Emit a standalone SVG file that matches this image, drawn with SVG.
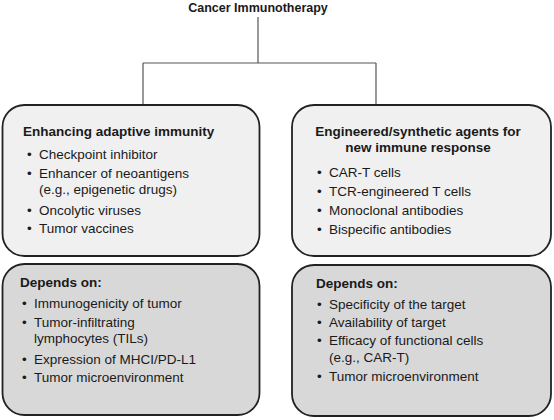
<svg xmlns="http://www.w3.org/2000/svg" width="554" height="420" viewBox="0 0 554 420">
<style>
text{font-family:"Liberation Sans",Arial,sans-serif;fill:#1a1a1a;font-size:13.5px}
.b{font-weight:bold}
.t{font-size:12.5px;font-weight:bold}
.box{stroke:#222;stroke-width:1.8}
.top{fill:#f0f0f0}
.bot{fill:#d8d8d8}
.conn{fill:none;stroke:#555;stroke-width:1.2}
</style>
<rect width="554" height="420" fill="#fff"/>
<g id="title"><text class="t" x="258" y="12" text-anchor="middle">Cancer Immunotherapy</text></g>
<g id="connectors">
<path class="conn" d="M258,17 V63 M143,63 H376 M143,63 V104 M376,63 V104"/>
</g>
<g id="adaptive">
<rect class="box top" x="2.5" y="105" width="257" height="151" rx="22"/>
<text class="b" x="23" y="136">Enhancing adaptive immunity</text>
<text x="27" y="159">•</text><text x="39" y="159">Checkpoint inhibitor</text>
<text x="27" y="178">•</text><text x="39" y="178">Enhancer of neoantigens</text>
<text x="39" y="194">(e.g., epigenetic drugs)</text>
<text x="27" y="215">•</text><text x="39" y="215">Oncolytic viruses</text>
<text x="27" y="233">•</text><text x="39" y="233">Tumor vaccines</text>
</g>
<g id="engineered">
<rect class="box top" x="292" y="105" width="259" height="151" rx="22"/>
<text class="b" x="418" y="136" text-anchor="middle">Engineered/synthetic agents for</text>
<text class="b" x="418" y="152" text-anchor="middle">new immune response</text>
<text x="317" y="177">•</text><text x="329" y="177">CAR-T cells</text>
<text x="317" y="196">•</text><text x="329" y="196">TCR-engineered T cells</text>
<text x="317" y="215">•</text><text x="329" y="215">Monoclonal antibodies</text>
<text x="317" y="234">•</text><text x="329" y="234">Bispecific antibodies</text>
</g>
<g id="depends-left">
<rect class="box bot" x="2.5" y="264" width="257" height="151" rx="22"/>
<text class="b" x="20" y="287">Depends on:</text>
<text x="22" y="308">•</text><text x="34" y="308">Immunogenicity of tumor</text>
<text x="22" y="327">•</text><text x="34" y="327">Tumor-infiltrating</text>
<text x="34" y="343">lymphocytes (TILs)</text>
<text x="22" y="364">•</text><text x="34" y="364">Expression of MHCI/PD-L1</text>
<text x="22" y="382">•</text><text x="34" y="382">Tumor microenvironment</text>
</g>
<g id="depends-right">
<rect class="box bot" x="292" y="265" width="259" height="151" rx="22"/>
<text class="b" x="316" y="288">Depends on:</text>
<text x="317" y="309">•</text><text x="329" y="309">Specificity of the target</text>
<text x="317" y="327">•</text><text x="329" y="327">Availability of target</text>
<text x="317" y="345">•</text><text x="329" y="345">Efficacy of functional cells</text>
<text x="329" y="362">(e.g., CAR-T)</text>
<text x="317" y="381">•</text><text x="329" y="381">Tumor microenvironment</text>
</g>
</svg>
